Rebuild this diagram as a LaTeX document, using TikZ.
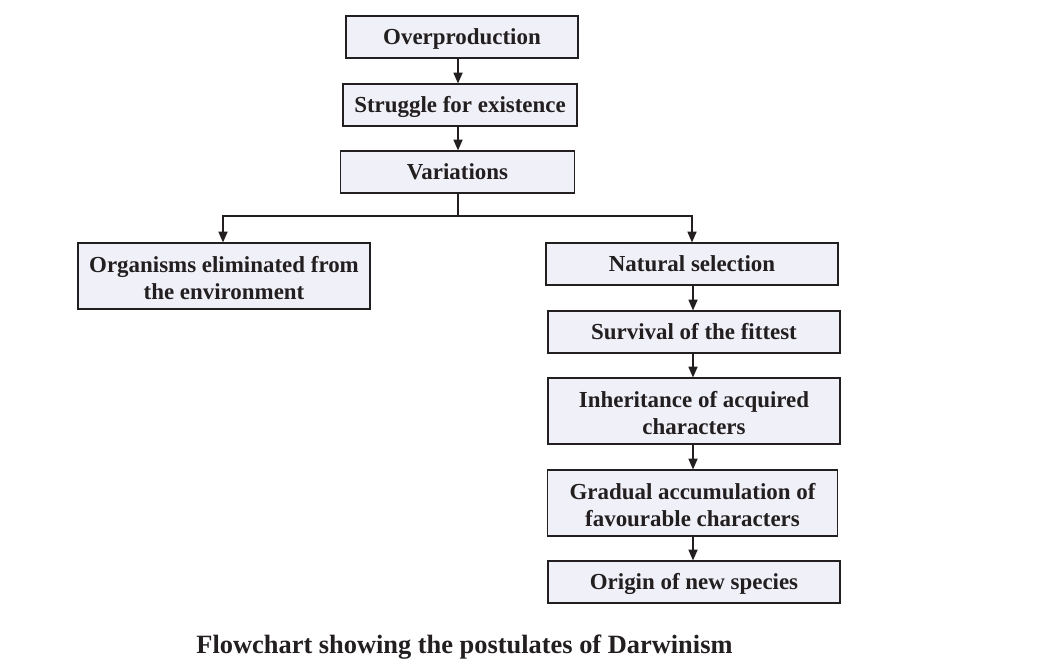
\documentclass[tikz,border=0pt]{standalone}
\usepackage{fontspec}
\setmainfont{Liberation Serif}
\usetikzlibrary{arrows.meta,calc}
\definecolor{boxfill}{HTML}{F0F0F8}
\definecolor{ink}{HTML}{231F20}
\newcommand{\topstrut}{\rule{0pt}{15pt}}
\begin{document}
\begin{tikzpicture}[x=0.75pt,y=-0.75pt,
  boxbase/.style={draw=ink,line width=0.9pt,fill=boxfill,inner sep=0pt,align=center,
    font=\fontsize{17.2}{20}\selectfont\bfseries,text=ink},
  box/.style={boxbase,text height=11.4pt,text depth=0pt},
  box2/.style={boxbase},
  arr/.style={draw=ink,line width=0.9pt,-{Triangle[length=8pt,width=6.8pt]}},
  ln/.style={draw=ink,line width=0.9pt}]
\useasboundingbox[fill=white] (0,0) rectangle (1042,668);
\node[box,minimum width=174pt,minimum height=31.5pt] (ov) at (462,37) {Overproduction};
\node[box,minimum width=175.5pt,minimum height=31.5pt] (st) at (460,105) {Struggle for existence};
\node[box,minimum width=175pt,minimum height=31.5pt] (va) at (457.5,172) {Variations};
\node[box2,minimum width=219pt,minimum height=49.5pt] (or) at (224,276) {\topstrut Organisms eliminated from\\the environment};
\node[box,minimum width=219pt,minimum height=31.5pt] (ns) at (692,264) {Natural selection};
\node[box,minimum width=219pt,minimum height=31.5pt] (sf) at (694,332) {Survival of the fittest};
\node[box2,minimum width=219pt,minimum height=49.5pt] (ih) at (694,411) {\topstrut Inheritance of acquired\\characters};
\node[box2,minimum width=218pt,minimum height=49.5pt] (gr) at (692.5,503) {\topstrut Gradual accumulation of\\favourable characters};
\node[box,minimum width=219pt,minimum height=31.5pt] (og) at (694,582) {Origin of new species};
\node[font=\fontsize{19.8}{23}\selectfont\bfseries,text=ink] (cap) at (464.5,647) {Flowchart showing the postulates of Darwinism};
\coordinate (j) at (458,216);
\draw[arr] (ov.south -| j) -- (st.north -| j);
\draw[arr] (st.south -| j) -- (va.north -| j);
\draw[ln] (va.south -| j) -- (j);
\draw[arr] (j) -| ($(or.north)+(-1,0)$);
\draw[arr] (j) -| (ns.north);
\coordinate (r) at (693,0);
\draw[arr] (ns.south -| r) -- (sf.north -| r);
\draw[arr] (sf.south -| r) -- (ih.north -| r);
\draw[arr] (ih.south -| r) -- (gr.north -| r);
\draw[arr] (gr.south -| r) -- (og.north -| r);
\end{tikzpicture}
\end{document}
